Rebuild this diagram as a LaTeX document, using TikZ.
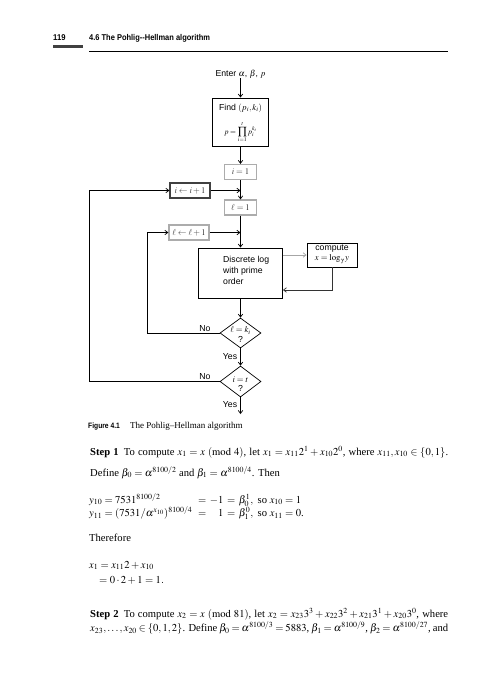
\documentclass[tikz,border=0pt]{standalone}
\usepackage{mathptmx}
\usepackage{fontspec}
\usepackage{graphicx}
\setmainfont{Liberation Serif}
\newfontfamily\sansf{Liberation Sans}
\usetikzlibrary{arrows.meta,shapes.geometric}

% fonts used on the page
\newcommand\chartfont{\sansf\fontsize{8.7}{10}\selectfont}
\newcommand\pagebodyfont{\fontsize{10.6}{12.7}\selectfont}
\newcommand\capfont{\fontsize{9}{11}\selectfont}
\newcommand\headcond[2]{\scalebox{#1}[1]{\sansf\bfseries #2}}

\tikzset{
  conn/.style={draw=black, line width=0.7pt, -{Straight Barb[length=3pt,width=4.5pt]}},
  chart/.style={inner sep=0pt, font=\chartfont},
  bigbox/.style={draw=black, line width=0.9pt, inner sep=0pt},
  smallbox/.style={draw=gray!65, line width=1.2pt, inner sep=0pt, font=\chartfont,
                   text=black!75, minimum height=15pt},
  decision/.style={diamond, draw=black, line width=0.7pt, inner sep=0pt,
                   minimum width=41pt, minimum height=30pt},
  body/.style={anchor=base west, inner sep=0pt, font=\pagebodyfont},
}

\begin{document}
\begin{tikzpicture}[x=1pt, y=-1pt]
\fill[white] (0,0) rectangle (494,699);
\useasboundingbox (0,0) rectangle (494,699);

% running head
\node[anchor=base west, inner sep=0pt, font=\fontsize{8.4}{10}\selectfont] (pnum) at (53,40) {\headcond{0.91}{119}};
\node[anchor=base west, inner sep=0pt, font=\fontsize{8.4}{10}\selectfont] (head) at (89,40) {\headcond{0.89}{4.6 The Pohlig--Hellman algorithm}};
\fill[black!75] (53,45) rectangle (83,47.5);
\draw[line width=0.6pt] (89,51) -- (448,51);

% flowchart
\node[chart] (enter) at (240.5,74) {Enter $\alpha$, $\beta$, $p$};
\node[bigbox, minimum width=56pt, minimum height=48pt] (find) at (240.5,122) {};
\node[chart, anchor=base] (findt) at (240.5,110.5) {Find $(p_i, k_i)$};
\node[chart, anchor=base, font=\sansf\fontsize{7.6}{9}\selectfont] (prod) at (240.5,134) {$\displaystyle p=\prod_{i=1}^{t} p_i^{k_i}$};

\node[smallbox, minimum width=32pt] (i1) at (240.5,172) {$i=1$};
\node[smallbox, minimum width=32pt] (l1) at (240.5,207.5) {$\ell=1$};
\node[smallbox, minimum width=40pt, draw=gray!50!black] (iinc) at (190,190.5) {$i \leftarrow i+1$};
\node[smallbox, minimum width=40pt] (linc) at (189,232.5) {$\ell \leftarrow \ell+1$};

\node[bigbox, minimum width=84pt, minimum height=50pt] (dlog) at (240.5,273) {};
\node[chart, anchor=north west, align=left] (dlogt) at (223,256) {Discrete log\\[1pt] with prime\\[1pt] order};

\node[bigbox, line width=0.8pt, minimum width=50pt, minimum height=24pt] (comp) at (332,255) {};
\node[chart, align=center] (compt) at (332,254.5) {compute\\ $x=\log_{\gamma} y$};

\node[decision] (d1) at (240.5,333) {};
\node[chart] (d1a) at (240.5,330.5) {$\ell = k_i$};
\node[chart] (d1b) at (240.5,339) {?};
\node[decision, minimum height=31pt] (d2) at (240.5,381.5) {};
\node[chart] (d2a) at (240.5,379.5) {$i = t$};
\node[chart] (d2b) at (240.5,388.5) {?};

\node[chart] (no1) at (205,328.5) {No};
\node[chart] (no2) at (205,377) {No};
\node[chart] (yes1) at (230,357) {Yes};
\node[chart] (yes2) at (230,405) {Yes};

\coordinate (j1) at (240.5,190.5);
\coordinate (j2) at (240.5,232.5);
\coordinate (ret) at (332,290);
\coordinate (la) at (147,333);
\coordinate (lb) at (89,381.5);
\coordinate (out) at (240.5,414);

\draw[conn] (enter) -- (find);
\draw[conn] (find) -- (i1);
\draw[conn] (i1) -- (l1);
\draw[conn] (iinc) -- (j1);
\draw[conn] (l1) -- (dlog);
\draw[conn] (linc) -- (j2);
\draw[conn, draw=gray!70] (dlog.east |- comp.west) -- (comp.west);
\draw[conn, draw=black!80] (comp.south) -- (ret) -- (ret -| dlog.east);
\draw[conn] (dlog) -- (d1);
\draw[conn] (d1.west) -- (la) |- (linc.west);
\draw[conn] (d1) -- (d2);
\draw[conn] (d2.west) -- (lb) |- (iinc.west);
\draw[conn] (d2) -- (out);

% caption
\node[anchor=base west, inner sep=0pt, font=\fontsize{7.8}{10}\selectfont] (figlab) at (88,428) {\headcond{0.86}{Figure 4.1}};
\node[anchor=base west, inner sep=0pt, font=\capfont] (figcap) at (130,428) {The Pohlig--Hellman algorithm};

% running text
\node[body] (s1a) at (90,455) {\hbox to 358pt{\textbf{Step 1}\enspace To compute $x_1 = x\ (\mathrm{mod}\ 4)$, let $x_1 = x_{11}2^1 + x_{10}2^0$, where $x_{11}, x_{10} \in \{0, 1\}$.}};
\node[body] (s1b) at (90,476) {Define $\beta_0 = \alpha^{8100/2}$ and $\beta_1 = \alpha^{8100/4}$. Then};

\node[body] (y10a) at (89,503) {$y_{10} = 7531^{8100/2}$};
\node[body] (y10b) at (198,503) {$=\, -1 \,=\, \beta_0^1,$\, so $x_{10} = 1$};
\node[body] (y11a) at (89,516.7) {$y_{11} = (7531/\alpha^{x_{10}})^{8100/4}$};
\node[body] (y11b) at (198,516.7) {$=\, \phantom{-}1 \,=\, \beta_1^0,$\, so $x_{11} = 0$.};

\node[body] (there) at (89,541) {Therefore};
\node[body] (x1a) at (89,568) {$x_1 = x_{11}2 + x_{10}$};
\node[body] (x1b) at (99,583) {$= 0 \cdot 2 + 1 = 1.$};

\node[body] (s2a) at (90,617) {\hbox to 358pt{\textbf{Step 2}\enspace To compute $x_2 = x\ (\mathrm{mod}\ 81)$, let $x_2 = x_{23}3^3 + x_{22}3^2 + x_{21}3^1 + x_{20}3^0$, where}};
\node[body] (s2b) at (90,631.5) {\hbox to 358pt{$x_{23}, \ldots, x_{20} \in \{0, 1, 2\}$. Define $\beta_0 = \alpha^{8100/3} = 5883$, $\beta_1 = \alpha^{8100/9}$, $\beta_2 = \alpha^{8100/27}$, and}};
\end{tikzpicture}
\end{document}
